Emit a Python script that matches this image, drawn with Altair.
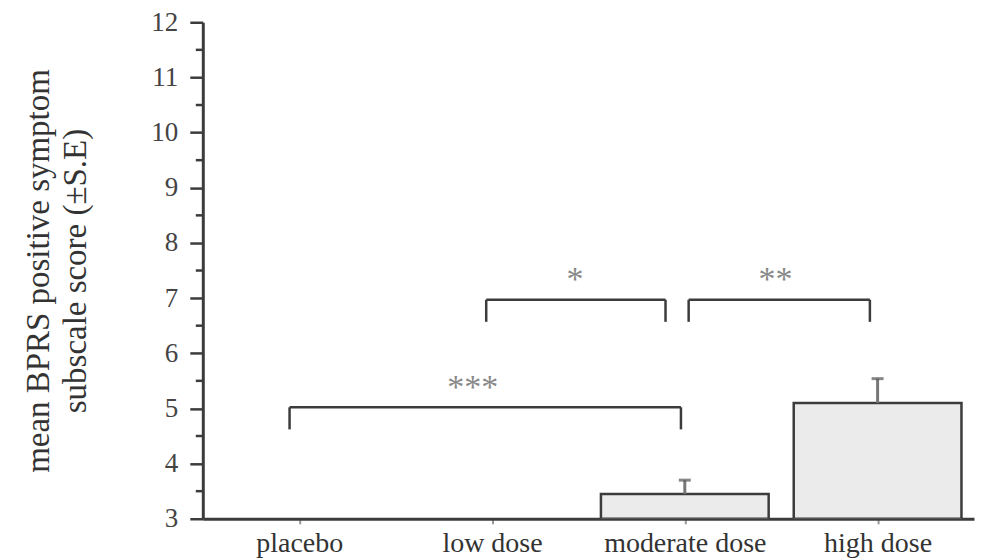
import altair as alt
import pandas as pd

categories = ["placebo", "low dose", "moderate dose", "high dose"]
positions = [1, 2, 3, 4]
means = [2.9, 2.9, 3.45, 5.1]
ses = [0.2, 0.2, 0.25, 0.44]

br_labels = ["***", "*", "**"]
br_left = [0.95, 1.97, 3.02]
br_right = [2.98, 2.90, 3.96]
br_top = [5.02, 6.97, 6.97]
br_drop = [4.62, 6.57, 6.57]
br_text_x = [1.90, 2.43, 3.47]

major_ticks = list(range(3, 13))
minor_ticks = [3.5 + i for i in range(9)]

FONT = "Liberation Serif"
DARK = "#3c3c3c"

bars = pd.DataFrame({
    "cat": categories,
    "pos": positions,
    "mean": means,
    "se": ses,
})
bars["x1"] = bars["pos"] - 0.435
bars["x2"] = bars["pos"] + 0.435
bars["base"] = 3.0
bars["hi"] = bars["mean"] + bars["se"]

br = pd.DataFrame({
    "label": br_labels,
    "l": br_left,
    "r": br_right,
    "top": br_top,
    "drop": br_drop,
    "tx": br_text_x,
})

minor = pd.DataFrame({"v": minor_ticks})

xscale = alt.Scale(domain=[0.5, 4.5], nice=False, zero=False)
yscale = alt.Scale(domain=[3, 12], nice=False, zero=False)

label_expr = ("datum.value == 1 ? 'placebo' : datum.value == 2 ? 'low dose' : "
              "datum.value == 3 ? 'moderate dose' : 'high dose'")

xaxis = alt.Axis(values=positions, labelExpr=label_expr, title=None, grid=False,
                 domainColor=DARK, domainWidth=3, tickColor="#999", tickSize=5,
                 tickWidth=2, labelFont=FONT, labelFontSize=28, labelColor="#333",
                 labelPadding=6)
yaxis = alt.Axis(values=major_ticks, format="d",
                 title=["mean BPRS positive symptom", "subscale score (±S.E)"],
                 grid=False, domainColor=DARK, domainWidth=3,
                 tickColor=DARK, tickWidth=2.5, tickSize=13,
                 labelFont=FONT, labelFontSize=27, labelColor="#444", labelPadding=12,
                 titleFont=FONT, titleFontSize=33, titleFontWeight="normal",
                 titleColor="#333", titleLineHeight=37, titlePadding=58)

base_bars = alt.Chart(bars).transform_filter("datum.mean > 3")

bar_layer = base_bars.mark_bar(fill="#ebebeb", stroke=DARK, strokeWidth=2.5, clip=True).encode(
    x=alt.X("x1:Q", scale=xscale, axis=xaxis),
    x2="x2:Q",
    y=alt.Y("base:Q", scale=yscale, axis=yaxis),
    y2="mean:Q",
)

minor_layer = alt.Chart(minor).mark_rule(color=DARK, strokeWidth=2.5).encode(
    x=alt.value(-7), x2=alt.value(0), y="v:Q"
)

err_line = base_bars.mark_rule(color="#777", strokeWidth=3).encode(
    x="pos:Q", y="mean:Q", y2="hi:Q"
)
err_cap = base_bars.mark_tick(color="#555", thickness=3, size=12, orient="horizontal").encode(
    x="pos:Q", y="hi:Q"
)

brc = alt.Chart(br)
h_line = brc.mark_rule(color=DARK, strokeWidth=2.5).encode(x="l:Q", x2="r:Q", y="top:Q")
l_line = brc.mark_rule(color=DARK, strokeWidth=2.5).encode(x="l:Q", y="drop:Q", y2="top:Q")
r_line = brc.mark_rule(color=DARK, strokeWidth=2.5).encode(x="r:Q", y="drop:Q", y2="top:Q")
stars = brc.mark_text(font=FONT, fontSize=34, color="#888", baseline="middle").encode(
    x="tx:Q", y="top:Q", text="label:N"
).transform_calculate(top="datum.top + 0.35")

chart = alt.layer(bar_layer, minor_layer, err_line, err_cap, h_line, l_line, r_line, stars).properties(
    width=772, height=497, background="white",
    padding={"left": 15, "top": 0, "right": 1, "bottom": 2},
).configure_view(stroke=None)

chart.save("out.html", embed_options={"renderer": "svg", "actions": False})
